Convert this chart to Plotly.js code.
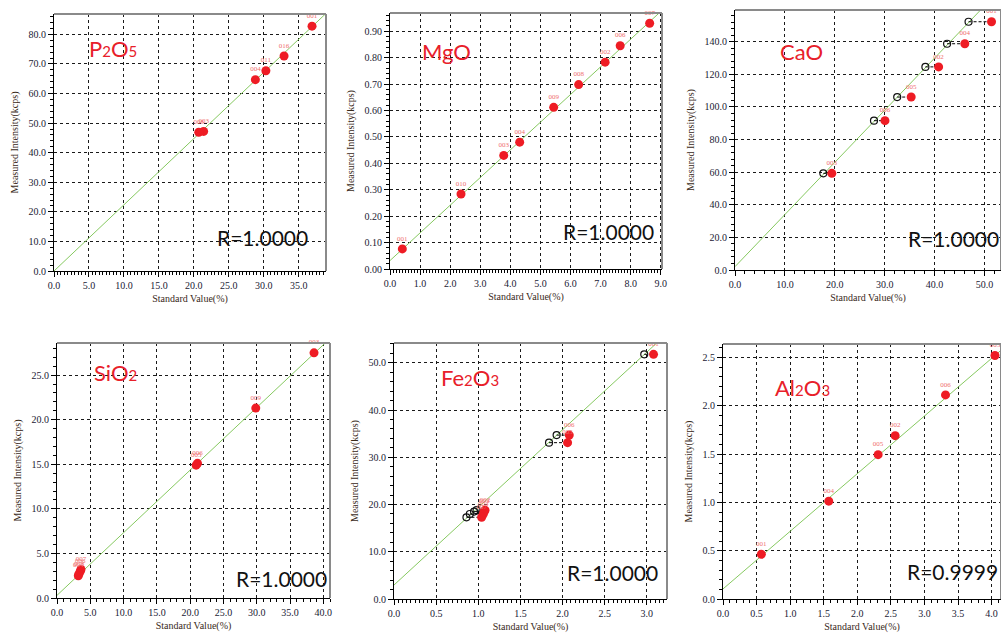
<!DOCTYPE html>
<html>
<head>
<meta charset="utf-8">
<script src="https://cdn.plot.ly/plotly-3.0.1.min.js"></script>
<style>html,body{margin:0;padding:0;background:#fff;}#chart{width:1001px;height:634px;}</style>
</head>
<body>
<div id="chart"></div>
<script>
// ---------- DATA ----------
// P2O5
const p2o5StdX   = [36.9, 32.9, 30.3, 28.8, 21.4, 20.7];
const p2o5MeasY  = [82.8, 72.7, 67.7, 64.7, 47.2, 46.9];
const p2o5Labels = ["001", "016", "011", "004", "003", "008"];
const p2o5FitX   = [0, 38.9];
const p2o5FitY   = [0, 87.1];

// MgO
const mgoStdX   = [0.41, 2.36, 3.78, 4.31, 5.44, 6.27, 7.15, 7.65, 8.63];
const mgoMeasY  = [0.076, 0.284, 0.430, 0.480, 0.612, 0.698, 0.783, 0.845, 0.930];
const mgoLabels = ["001", "010", "003", "004", "009", "008", "002", "006", "007"];
const mgoFitX   = [0, 9.04];
const mgoFitY   = [0.032, 0.979];

// CaO
const caoStdX   = [51.4, 46.05, 40.8, 35.3, 30.05, 19.4];
const caoMeasY  = [152.3, 138.8, 124.6, 106.1, 91.6, 59.3];
const caoEstX   = [46.8, 42.5, 38.15, 32.5, 27.85, 17.7];
const caoLabels = ["001", "004", "002", "005", "006", "003"];
const caoFitX   = [0, 53.3];
const caoFitY   = [2.05, 172.6];

// SiO2
const sio2StdX   = [38.6, 29.85, 21.1, 20.9, 3.6, 3.5, 3.3, 3.2];
const sio2MeasY  = [27.5, 21.3, 15.1, 14.9, 3.2, 3.0, 2.7, 2.5];
const sio2Labels = ["003", "009", "006", "005", "007", "006", "008", "004"];
const sio2FitX   = [0, 41.0];
const sio2FitY   = [0.3, 29.1];

// Fe2O3
const fe2o3StdX   = [3.08, 2.08, 2.06, 1.08, 1.07, 1.06, 1.04];
const fe2o3MeasY  = [51.8, 34.7, 33.1, 18.8, 18.5, 18.0, 17.3];
const fe2o3EstX   = [2.97, 1.93, 1.84, 0.98, 0.95, 0.90, 0.86];
const fe2o3Labels = ["001", "006", "005", "002", "003", "004", "007"];
const fe2o3FitX   = [0, 3.24];
const fe2o3FitY   = [2.96, 56.2];

// Al2O3
const al2o3StdX   = [0.571, 1.575, 2.31, 2.564, 3.314, 4.05];
const al2o3MeasY  = [0.463, 1.013, 1.494, 1.691, 2.113, 2.521];
const al2o3Labels = ["001", "004", "005", "002", "006", "003"];
const al2o3FitX   = [0, 4.14];
const al2o3FitY   = [0.104, 2.575];

const sb = (d) => "<span style='font-size:15px'>" + d + "</span>";
const elementNames = ["P" + sb("2") + "O" + sb("5"), "MgO", "CaO", "SiO" + sb("2"), "Fe" + sb("2") + "O" + sb("3"), "Al" + sb("2") + "O" + sb("3")];
const rValues      = ["R=1.0000", "R=1.0000", "R=1.0000", "R=1.0000", "R=1.0000", "R=0.9999"];

// ---------- LAYOUT CONFIG ----------
const W = 1001, H = 634;
const panels = [
  {sx: p2o5StdX, my: p2o5MeasY, lab: p2o5Labels, fx: p2o5FitX, fy: p2o5FitY, ex: null,
   px: [54, 326], py: [14, 271], xr: [0, 38.9], yr: [0, 86.9], xd: 5, xm: 0.5, yd: 10, ym: 2, xf: ".1f", yf: ".1f",
   nm: [0.12, 0.865], rv: [0.765, 0.132]},
  {sx: mgoStdX, my: mgoMeasY, lab: mgoLabels, fx: mgoFitX, fy: mgoFitY, ex: null,
   px: [390, 662], py: [13, 269], xr: [0, 9.04], yr: [0, 0.969], xd: 1, xm: 0.1, yd: 0.1, ym: 0.02, xf: ".1f", yf: ".2f",
   nm: [0.11, 0.85], rv: [0.805, 0.145]},
  {sx: caoStdX, my: caoMeasY, lab: caoLabels, fx: caoFitX, fy: caoFitY, ex: caoEstX,
   px: [735, 1001], py: [10, 270], xr: [0, 53.3], yr: [0, 159.5], xd: 10, xm: 2, yd: 20, ym: 4, xf: ".1f", yf: ".1f",
   nm: [0.16, 0.842], rv: [0.823, 0.123]},
  {sx: sio2StdX, my: sio2MeasY, lab: sio2Labels, fx: sio2FitX, fy: sio2FitY, ex: null,
   px: [57, 330], py: [343, 598], xr: [0, 41.0], yr: [0, 28.6], xd: 5, xm: 1, yd: 5, ym: 1, xf: ".1f", yf: ".1f",
   nm: [0.128, 0.886], rv: [0.824, 0.075]},
  {sx: fe2o3StdX, my: fe2o3MeasY, lab: fe2o3Labels, fx: fe2o3FitX, fy: fe2o3FitY, ex: fe2o3EstX,
   px: [394, 667], py: [343, 599], xr: [0, 3.24], yr: [0, 54.2], xd: 0.5, xm: 0.05, yd: 10, ym: 2, xf: ".1f", yf: ".1f",
   nm: [0.165, 0.867], rv: [0.8, 0.105]},
  {sx: al2o3StdX, my: al2o3MeasY, lab: al2o3Labels, fx: al2o3FitX, fy: al2o3FitY, ex: null,
   px: [723, 1001], py: [344, 599], xr: [0, 4.14], yr: [0, 2.64], xd: 0.5, xm: 0.1, yd: 0.5, ym: 0.1, xf: ".1f", yf: ".1f",
   nm: [0.18, 0.83], rv: [0.827, 0.106]}
];

const serif = "'Liberation Serif', 'Times New Roman', serif";
const sans = "Lato, 'Noto Sans', sans-serif";
const traces = [];
const layout = {
  width: W, height: H,
  margin: {l: 0, r: 0, t: 0, b: 0},
  paper_bgcolor: "#ffffff", plot_bgcolor: "#ffffff",
  showlegend: false,
  annotations: [], shapes: []
};

panels.forEach((p, i) => {
  const n = i + 1;
  const xa = n === 1 ? "x" : "x" + n;
  const ya = n === 1 ? "y" : "y" + n;
  const xk = n === 1 ? "xaxis" : "xaxis" + n;
  const yk = n === 1 ? "yaxis" : "yaxis" + n;

  // fit line
  traces.push({type: "scatter", mode: "lines", x: p.fx, y: p.fy, xaxis: xa, yaxis: ya,
    line: {color: "#86c960", width: 1}, hoverinfo: "skip"});

  // connectors + estimated points
  if (p.ex) {
    const cx = [], cy = [];
    p.ex.forEach((v, k) => { cx.push(v, p.sx[k], null); cy.push(p.my[k], p.my[k], null); });
    traces.push({type: "scatter", mode: "lines", x: cx, y: cy, xaxis: xa, yaxis: ya,
      line: {color: "#000000", width: 1, dash: "3px,2px"}, hoverinfo: "skip"});
    traces.push({type: "scatter", mode: "markers", x: p.ex, y: p.my, xaxis: xa, yaxis: ya,
      marker: {symbol: "circle-open", size: 7, color: "#111111", line: {width: 1.2}}});
  }

  // standard points
  traces.push({type: "scatter", mode: "markers+text", x: p.sx, y: p.my, text: p.lab, xaxis: xa, yaxis: ya,
    textposition: "top center", textfont: {family: serif, size: 7, color: "#f07070"},
    marker: {symbol: "circle", size: 9, color: "#ee1c24"}, cliponaxis: false});

  const common = {
    showline: true, linecolor: "#000000", linewidth: 1,
    showgrid: true, gridcolor: "#1a1a1a", gridwidth: 1, griddash: "3px,3px",
    zeroline: false, ticks: "outside", ticklen: 5, tickcolor: "#000000",
    tickfont: {family: serif, size: 10, color: "#1a1a33"},
    automargin: false, fixedrange: true
  };

  layout[xk] = Object.assign({}, common, {
    domain: [p.px[0] / W, p.px[1] / W], anchor: ya,
    range: p.xr, dtick: p.xd, tick0: 0, tickformat: p.xf,
    minor: {ticks: "outside", ticklen: 3, dtick: p.xm, tick0: 0, tickcolor: "#000", showgrid: false},
    title: {text: "Standard Value(%)", font: {family: serif, size: 10, color: "#3a2a1a"}, standoff: 4}
  });
  layout[yk] = Object.assign({}, common, {
    domain: [1 - p.py[1] / H, 1 - p.py[0] / H], anchor: xa,
    range: p.yr, dtick: p.yd, tick0: 0, tickformat: p.yf,
    minor: {ticks: "outside", ticklen: 3, dtick: p.ym, tick0: 0, tickcolor: "#000", showgrid: false},
    title: {text: "Measured Intensity(kcps)", font: {family: serif, size: 10, color: "#3a2a1a"}, standoff: 8}
  });

  // frame top/right
  layout.shapes.push({type: "line", xref: xa + " domain", yref: ya + " domain", x0: 0, x1: 1, y0: 1, y1: 1,
    line: {color: "#8a8a8a", width: 2}});
  layout.shapes.push({type: "line", xref: xa + " domain", yref: ya + " domain", x0: 1, x1: 1, y0: 0, y1: 1,
    line: {color: "#8a8a8a", width: 2}});

  layout.annotations.push({xref: xa + " domain", yref: ya + " domain", x: p.nm[0], y: p.nm[1],
    xanchor: "left", yanchor: "middle", showarrow: false, text: elementNames[i],
    font: {family: sans, size: 22, color: "#e8202a"}});
  layout.annotations.push({xref: xa + " domain", yref: ya + " domain", x: p.rv[0], y: p.rv[1],
    xanchor: "center", yanchor: "middle", showarrow: false, text: rValues[i],
    font: {family: sans, size: 21, color: "#111111"}});
});

Plotly.newPlot("chart", traces, layout, {displayModeBar: false, staticPlot: true});
</script>
</body>
</html>
